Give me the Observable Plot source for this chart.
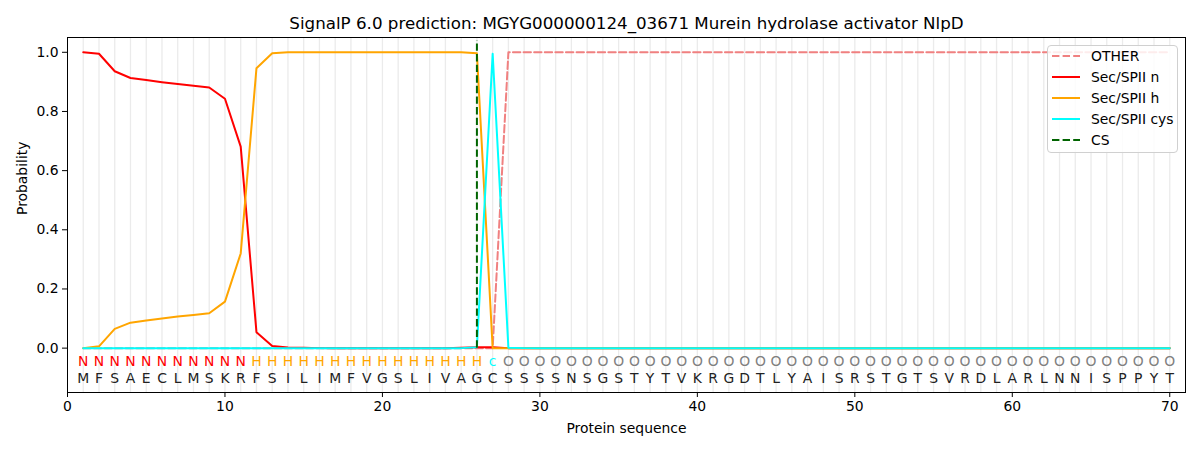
<!DOCTYPE html>
<html>
<head>
<meta charset="utf-8">
<script src="https://cdn.jsdelivr.net/npm/d3@7"></script>
<script src="https://cdn.jsdelivr.net/npm/@observablehq/plot@0.6"></script>
<style>
  body { margin: 0; background: #fff; font-family: "DejaVu Sans", sans-serif; }
  #wrap { position: relative; width: 1200px; height: 450px; }
  #legend { position: absolute; left: 1047px; top: 45px; width: 129px; height: 106px;
    border: 1px solid #d0d0d0; border-radius: 4px; background: rgba(255,255,255,0.85);
    font-family: "DejaVu Sans", sans-serif; font-size: 13.9px; color: #000; }
  .row { position: absolute; left: 0; height: 20px; display: flex; align-items: center; white-space: nowrap; width: 140px; }
  .row svg { margin-left: 4px; margin-right: 11px; flex: none; }
</style>
</head>
<body>
<div id="wrap"></div>
<script>
const titleText = "SignalP 6.0 prediction: MGYG000000124_03671 Murein hydrolase activator NlpD";
const residues = ["M","F","S","A","E","C","L","M","S","K","R","F","S","I","L","I","M","F","V","G","S","L","I","V","A","G","C","S","S","S","S","N","S","G","S","T","Y","T","V","K","R","G","D","T","L","Y","A","I","S","R","S","T","G","T","S","V","R","D","L","A","R","L","N","N","I","S","P","P","Y","T"];
const regionLabels = ["N","N","N","N","N","N","N","N","N","N","N","H","H","H","H","H","H","H","H","H","H","H","H","H","H","H","c","O","O","O","O","O","O","O","O","O","O","O","O","O","O","O","O","O","O","O","O","O","O","O","O","O","O","O","O","O","O","O","O","O","O","O","O","O","O","O","O","O","O","O"];
const otherP = [0,0,0,0,0,0,0,0,0,0,0,0,0,0,0,0,0,0,0,0,0,0,0,0,0,0,0,1,1,1,1,1,1,1,1,1,1,1,1,1,1,1,1,1,1,1,1,1,1,1,1,1,1,1,1,1,1,1,1,1,1,1,1,1,1,1,1,1,1,1];
const nP = [1.0,0.995,0.936,0.913,0.906,0.899,0.893,0.887,0.881,0.843,0.681,0.054,0.007,0.002,0.001,0,0,0,0,0,0,0,0,0,0.001,0.003,0.003,0,0,0,0,0,0,0,0,0,0,0,0,0,0,0,0,0,0,0,0,0,0,0,0,0,0,0,0,0,0,0,0,0,0,0,0,0,0,0,0,0,0,0];
const hP = [0,0.006,0.065,0.086,0.093,0.100,0.107,0.112,0.118,0.157,0.320,0.946,0.997,1.0,1.0,1.0,1.0,1.0,1.0,1.0,1.0,1.0,1.0,1.0,1.0,0.997,0,0,0,0,0,0,0,0,0,0,0,0,0,0,0,0,0,0,0,0,0,0,0,0,0,0,0,0,0,0,0,0,0,0,0,0,0,0,0,0,0,0,0,0];
const cysP = [0,0,0,0,0,0,0,0,0,0,0,0,0,0,0,0,0,0,0,0,0,0,0,0,0,0.003,0.995,0.001,0,0,0,0,0,0,0,0,0,0,0,0,0,0,0,0,0,0,0,0,0,0,0,0,0,0,0,0,0,0,0,0,0,0,0,0,0,0,0,0,0,0];
const csPos = [26];
const csSpan = [0, 1.04];
const xTicks = [0,10,20,30,40,50,60,70];
const yTicks = [0,0.2,0.4,0.6,0.8,1.0];
const labelY = -0.047;
const residueY = -0.102;

const series = [
  {name: "OTHER", values: otherP, color: "#f08080", dash: "7.4,3.2"},
  {name: "Sec/SPII n", values: nP, color: "red", dash: null},
  {name: "Sec/SPII h", values: hP, color: "orange", dash: null},
  {name: "Sec/SPII cys", values: cysP, color: "cyan", dash: null}
];
const labelColor = {N: "red", H: "orange", c: "cyan", O: "gray"};

const pos = residues.map((r, i) => i + 1);
const rows = pos.map((p, i) => ({pos: p, res: residues[i], lab: regionLabels[i]}));

const marks = [
  Plot.ruleX(pos, {stroke: "#ebebeb", strokeWidth: 1.3}),
];
for (const s of series) {
  marks.push(Plot.line(s.values.map((v, i) => ({x: i + 1, y: v})), {
    x: "x", y: "y", stroke: s.color, strokeWidth: 2, strokeDasharray: s.dash
  }));
}
marks.push(Plot.ruleX(csPos, {y1: csSpan[0], y2: csSpan[1], stroke: "darkgreen", strokeWidth: 2, strokeDasharray: "7.4,3.2"}));
marks.push(Plot.text(rows, {x: "pos", y: () => labelY, text: "lab", fill: d => labelColor[d.lab], fontSize: 13.9}));
marks.push(Plot.text(rows, {x: "pos", y: () => residueY, text: "res", fill: "#222", fontSize: 13.9}));
marks.push(Plot.axisX({ticks: xTicks, tickFormat: d => d, tickSize: 5, tickPadding: 4, label: null, fontSize: 13.9}));
marks.push(Plot.axisY({ticks: yTicks, tickFormat: d3.format(".1f"), tickSize: 5, tickPadding: 4, label: null, fontSize: 13.9}));
marks.push(Plot.frame({stroke: "black", strokeWidth: 1}));
marks.push(Plot.text([titleText], {frameAnchor: "top", dy: -20, text: d => d, fontSize: 16.7, fill: "black"}));
marks.push(Plot.text(["Protein sequence"], {frameAnchor: "bottom", dy: 40, text: d => d, fontSize: 13.9, fill: "black"}));
marks.push(Plot.text(["Probability"], {frameAnchor: "left", dx: -45, rotate: -90, text: d => d, fontSize: 13.9, fill: "black"}));

const chart = Plot.plot({
  width: 1200,
  height: 450,
  marginLeft: 67,
  marginRight: 15,
  marginTop: 37,
  marginBottom: 58,
  style: {fontFamily: "DejaVu Sans, sans-serif", fontSize: "13.9px", color: "black", background: "white"},
  x: {domain: [0, 71]},
  y: {domain: [-0.15, 1.05]},
  marks
});
const wrap = document.getElementById("wrap");
wrap.appendChild(chart);

const legend = document.createElement("div");
legend.id = "legend";
const legendItems = [...series.map(s => ({name: s.name, color: s.color, dash: s.dash})), {name: "CS", color: "darkgreen", dash: "7.4,3.2"}];
legendItems.forEach((it, i) => {
  const row = document.createElement("div");
  row.className = "row";
  row.style.top = (0 + i * 21) + "px";
  row.innerHTML = `<svg width="28" height="10"><line x1="0" y1="5" x2="28" y2="5" stroke="${it.color}" stroke-width="2" ${it.dash ? `stroke-dasharray="${it.dash}"` : ""}/></svg><span>${it.name}</span>`;
  legend.appendChild(row);
});
wrap.appendChild(legend);
</script>
</body>
</html>
